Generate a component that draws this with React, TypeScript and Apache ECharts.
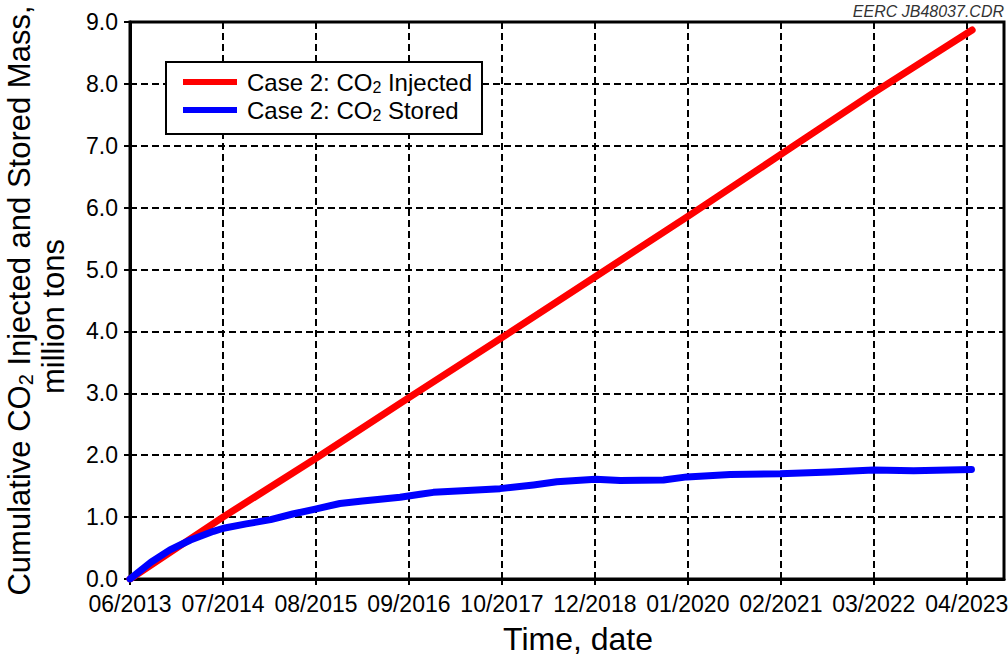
import React, { useEffect, useRef } from "react";
import * as echarts from "echarts";

// x values: days since the start of injection (06/2013); ticks every 400 days
const xTickLabels = [
  "06/2013", "07/2014", "08/2015", "09/2016", "10/2017",
  "12/2018", "01/2020", "02/2021", "03/2022", "04/2023",
];
const injectedDays = [0, 200, 400, 800, 1200, 1600, 2000, 2400, 2800, 3200, 3623];
const injectedValues = [0, 0.5, 1.0, 1.95, 2.93, 3.9, 4.88, 5.86, 6.86, 7.86, 8.87];
const storedDays = [
  0, 40, 90, 172, 260, 359, 402, 500, 605, 700, 797, 903, 1000, 1076, 1162, 1248,
  1305, 1450, 1592, 1736, 1836, 2003, 2109, 2295, 2396, 2582, 2797, 3012, 3199, 3371, 3620,
];
const storedValues = [
  0, 0.12, 0.27, 0.47, 0.63, 0.77, 0.82, 0.89, 0.96, 1.05, 1.13, 1.22, 1.26, 1.29, 1.32, 1.37,
  1.4, 1.43, 1.46, 1.52, 1.57, 1.61, 1.59, 1.6, 1.65, 1.69, 1.7, 1.73, 1.76, 1.75, 1.77,
];

const FONT = 'Arial, "Liberation Sans", sans-serif';

export default function App() {
  const ref = useRef<HTMLDivElement>(null);
  useEffect(() => {
    document.body.style.margin = "0";
    const chart = echarts.init(ref.current!, null, { renderer: "svg" });
    const injected = injectedDays.map((d, i) => [d, injectedValues[i]]);
    const stored = storedDays.map((d, i) => [d, storedValues[i]]);
    const splitLine = { show: true, lineStyle: { color: "#000", width: 2, type: [7, 4] as any } };
    chart.setOption({
      animation: false,
      backgroundColor: "#fff",
      textStyle: { fontFamily: FONT },
      grid: {
        left: 130,
        right: 4,
        top: 22,
        bottom: 77,
        outerBoundsMode: "none",
        containLabel: false,
        show: true,
        borderColor: "#000",
        borderWidth: 3,
        backgroundColor: "transparent",
      },
      legend: {
        orient: "vertical",
        left: 166,
        top: 62,
        backgroundColor: "#fff",
        borderColor: "#000",
        borderWidth: 2,
        borderRadius: 0,
        padding: [7, 10, 11, 17],
        itemWidth: 54,
        itemHeight: 6,
        itemGap: 2,
        icon: "rect",
        data: ["Case 2: CO2 Injected", "Case 2: CO2 Stored"],
        formatter: (name: string) => {
          const rest = name.replace("Case 2: CO2", "");
          return `{f|Case 2: CO}{s|2}{a|${rest}}`;
        },
        textStyle: {
          fontFamily: FONT,
          color: "#000",
          rich: {
            f: { fontSize: 24, lineHeight: 24, color: "#000", fontFamily: FONT, padding: [0, 0, 0, 5] },
            a: { fontSize: 24, lineHeight: 24, color: "#000", fontFamily: FONT },
            s: { fontSize: 16, lineHeight: 14, color: "#000", fontFamily: FONT, padding: [10, 0, 0, 0] },
          },
        },
      },
      graphic: [
        {
          type: "text",
          right: 4,
          top: 3,
          style: { text: "EERC JB48037.CDR", fontSize: 16, fontStyle: "italic", fill: "#333", fontFamily: FONT },
        },
      ],
      xAxis: {
        type: "value",
        min: 0,
        max: 3760,
        interval: 400,
        name: "Time, date",
        nameLocation: "middle",
        nameGap: 44,
        nameTextStyle: { fontSize: 32, color: "#000", fontFamily: FONT, padding: [0, 0, 0, 22] },
        axisLine: { show: true, lineStyle: { color: "#000", width: 3 } },
        axisTick: { show: true, length: 6, inside: false, lineStyle: { color: "#000", width: 2 } },
        axisLabel: {
          show: true,
          margin: 13,
          fontSize: 23,
          color: "#000",
          fontFamily: FONT,
          showMaxLabel: false,
          formatter: (v: number) => {
            const i = Math.round(v / 400);
            return Math.abs(v - i * 400) < 1e-6 && xTickLabels[i] ? xTickLabels[i] : "";
          },
        },
        splitLine,
      },
      yAxis: {
        type: "value",
        min: 0,
        max: 9,
        interval: 1,
        name: "{a|Cumulative CO}{s|2}{a| Injected and Stored Mass,}\n{b|million tons}",
        nameLocation: "middle",
        nameGap: 60,
        nameTextStyle: {
          color: "#000",
          fontFamily: FONT,
          rich: {
            a: { fontSize: 31, lineHeight: 34, color: "#000", fontFamily: FONT },
            b: { fontSize: 31, lineHeight: 34, color: "#000", fontFamily: FONT, padding: [0, 32, 0, 0] },
            s: { fontSize: 20, lineHeight: 20, color: "#000", fontFamily: FONT, padding: [14, 0, 0, 0] },
          },
        },
        axisLine: { show: true, lineStyle: { color: "#000", width: 3 } },
        axisTick: { show: true, length: 6, inside: false, lineStyle: { color: "#000", width: 2 } },
        axisLabel: {
          margin: 12,
          fontSize: 23,
          color: "#000",
          fontFamily: FONT,
          formatter: (v: number) => v.toFixed(1),
        },
        splitLine,
      },
      series: [
        {
          name: "Case 2: CO2 Injected",
          type: "line",
          data: injected,
          showSymbol: false,
          symbol: "none",
          color: "#ff0000",
          lineStyle: { color: "#ff0000", width: 7, cap: "round", join: "round" },
        },
        {
          name: "Case 2: CO2 Stored",
          type: "line",
          data: stored,
          showSymbol: false,
          symbol: "none",
          color: "#0000ff",
          lineStyle: { color: "#0000ff", width: 7, cap: "round", join: "round" },
        },
      ],
    });
    return () => chart.dispose();
  }, []);
  return <div ref={ref} style={{ width: 1008, height: 656 }} />;
}
